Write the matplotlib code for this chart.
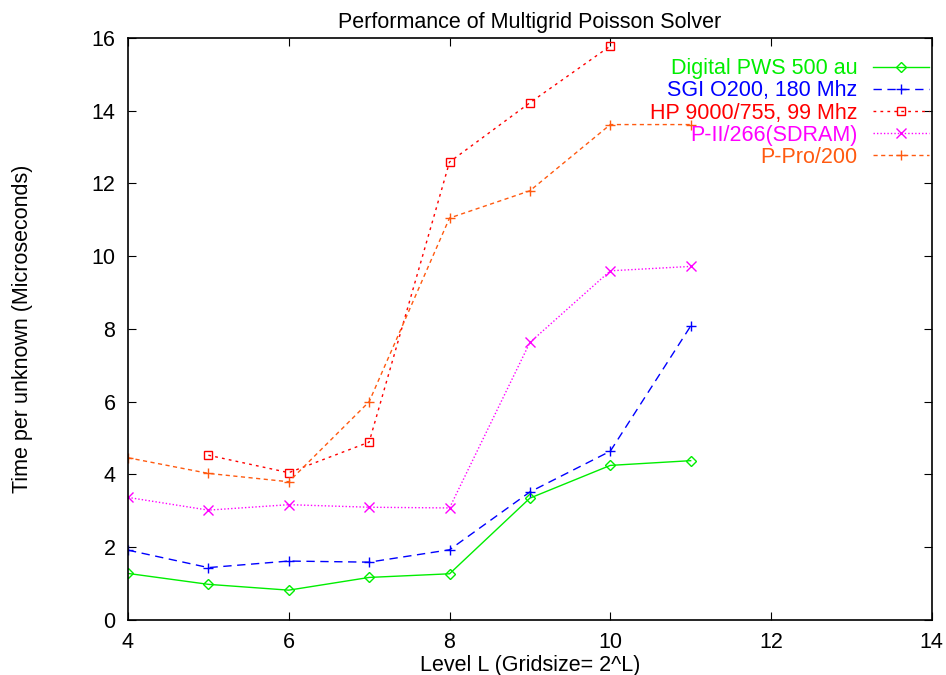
import matplotlib
matplotlib.use("Agg")
import matplotlib.pyplot as plt

plt.rcParams['font.family'] = ['Liberation Sans', 'DejaVu Sans']

levels = [4, 5, 6, 7, 8, 9, 10, 11]
hp_levels = [5, 6, 7, 8, 9, 10]

digital = [1.28, 0.98, 0.82, 1.17, 1.27, 3.35, 4.25, 4.38]
sgi = [1.92, 1.44, 1.62, 1.59, 1.93, 3.52, 4.64, 8.08]
hp = [4.53, 4.05, 4.89, 12.59, 14.22, 15.78]
p2 = [3.37, 3.02, 3.17, 3.10, 3.08, 7.63, 9.60, 9.72]
ppro = [4.46, 4.03, 3.80, 6.0, 11.05, 11.8, 13.62, 13.62]

fs = 15.5

fig = plt.figure(figsize=(9.46, 6.75), dpi=100)
ax = fig.add_axes([0.1353, 0.0815, 0.8497, 0.8622])

ax.plot(levels, digital, color='#00ee00', ls='-', lw=1, marker='D', ms=5.5,
        mfc='none', mew=1, label='Digital PWS 500 au')
ax.plot(levels, sgi, color='#0000ff', ls=(0, (6, 4)), lw=1, marker='+', ms=6.5,
        mew=1, label='SGI O200, 180 Mhz')
ax.plot(hp_levels, hp, color='#ff0000', ls=(0, (2, 3)), lw=1, marker='s', ms=6,
        mfc='none', mew=1, label='HP 9000/755, 99 Mhz')
ax.plot(levels, p2, color='#ff00ff', ls=(0, (1, 1.5)), lw=1, marker='x', ms=6.5,
        mew=1, label='P-II/266(SDRAM)')
ax.plot(levels, ppro, color='#ff5a10', ls=(0, (3, 2.5)), lw=1, marker='+', ms=6.5,
        mew=1, label='P-Pro/200')

ax.set_xlim(4, 14)
ax.set_ylim(0, 16)
ax.set_xticks(range(4, 15, 2))
ax.set_yticks(range(0, 17, 2))
ax.tick_params(direction='in', top=True, right=True, labelsize=fs, length=6, pad=9)
for s in ax.spines.values():
    s.set_linewidth(1.2)

ax.set_title('Performance of Multigrid Poisson Solver', fontsize=fs, pad=7)
ax.set_xlabel('Level L (Gridsize= 2^L)', fontsize=fs, labelpad=1)
ax.set_ylabel('Time per unknown (Microseconds)', fontsize=fs)
ax.yaxis.set_label_coords(-0.118, 0.5)

leg = ax.legend(loc='upper right', bbox_to_anchor=(0.996, 0.965), frameon=False,
                markerfirst=False, fontsize=fs, handlelength=2.6,
                labelspacing=0.05, borderaxespad=0, borderpad=0,
                handletextpad=0.7)
for txt, ln in zip(leg.get_texts(), leg.get_lines()):
    txt.set_color(ln.get_color())
    txt.set_ha('right')
leg._legend_box.align = 'right'

fig.savefig('out.png', dpi=100)
